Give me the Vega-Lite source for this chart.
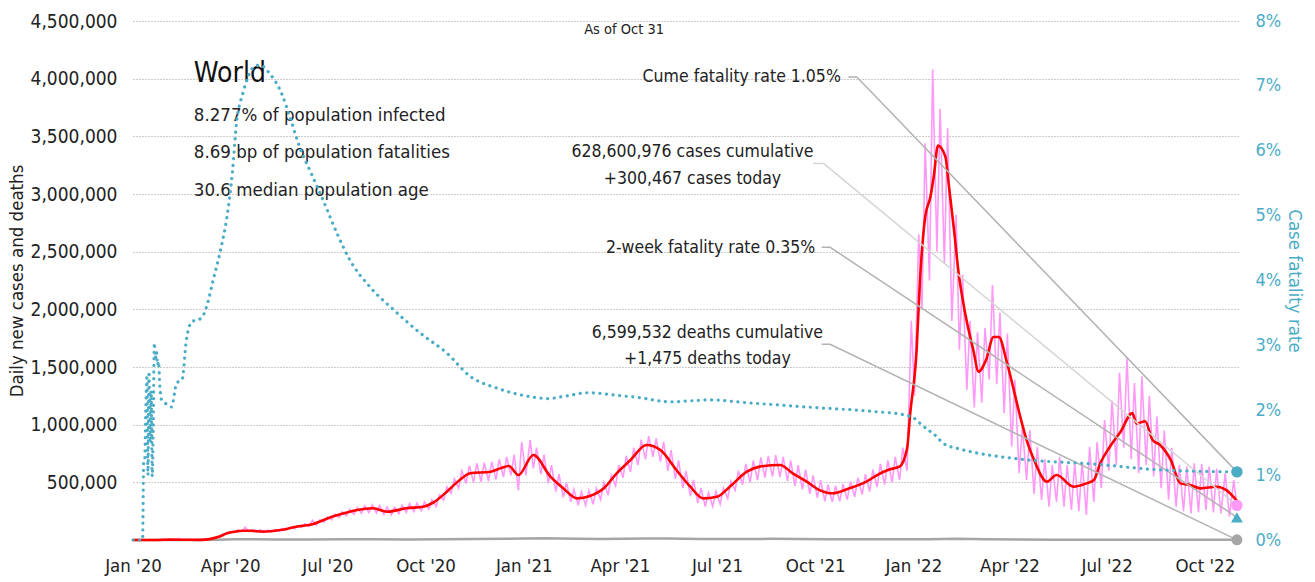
{
  "$schema": "https://vega.github.io/schema/vega-lite/v6.json",
  "width": 1105,
  "height": 519,
  "autosize": {"type": "none"},
  "padding": {"left": 133, "top": 21, "right": 77, "bottom": 42},
  "background": "white",
  "config": {
    "view": {"stroke": null},
    "font": "Liberation Sans Narrow, DejaVu Sans Condensed, Liberation Sans, sans-serif",
    "text": {"color": "#222", "fontWeight": "normal"}
  },
  "datasets": {
    "deaths": [
      {"d": "2020-01-01", "v": 0}, {"d": "2020-03-01", "v": 100}, {"d": "2020-03-20", "v": 1500},
      {"d": "2020-04-05", "v": 5500}, {"d": "2020-04-18", "v": 7000}, {"d": "2020-05-15", "v": 4700},
      {"d": "2020-06-15", "v": 4600}, {"d": "2020-07-15", "v": 5500}, {"d": "2020-08-15", "v": 5900},
      {"d": "2020-09-15", "v": 5400}, {"d": "2020-10-15", "v": 5800}, {"d": "2020-11-15", "v": 9000},
      {"d": "2020-12-15", "v": 11000}, {"d": "2021-01-20", "v": 14500}, {"d": "2021-02-20", "v": 10000},
      {"d": "2021-03-15", "v": 9000}, {"d": "2021-04-25", "v": 13000}, {"d": "2021-05-15", "v": 12000},
      {"d": "2021-06-15", "v": 9000}, {"d": "2021-07-15", "v": 8000}, {"d": "2021-08-20", "v": 10000},
      {"d": "2021-09-15", "v": 9000}, {"d": "2021-10-15", "v": 7000}, {"d": "2021-11-15", "v": 7000},
      {"d": "2021-12-15", "v": 7000}, {"d": "2022-01-15", "v": 7500}, {"d": "2022-02-10", "v": 11000},
      {"d": "2022-03-10", "v": 7000}, {"d": "2022-04-10", "v": 4000}, {"d": "2022-05-15", "v": 2000},
      {"d": "2022-06-15", "v": 1500}, {"d": "2022-07-15", "v": 2000}, {"d": "2022-08-15", "v": 2300},
      {"d": "2022-09-15", "v": 1700}, {"d": "2022-10-31", "v": 1475}
    ],
    "cases": [
      {"d": "2020-01-01", "v": 0}, {"d": "2020-01-22", "v": 600}, {"d": "2020-02-02", "v": 2800},
      {"d": "2020-02-05", "v": 3900}, {"d": "2020-02-09", "v": 3000}, {"d": "2020-02-13", "v": 15000},
      {"d": "2020-02-16", "v": 2000}, {"d": "2020-02-23", "v": 1000}, {"d": "2020-03-01", "v": 1000},
      {"d": "2020-03-04", "v": 2500}, {"d": "2020-03-08", "v": 2500}, {"d": "2020-03-11", "v": 6000},
      {"d": "2020-03-15", "v": 10000}, {"d": "2020-03-18", "v": 20000}, {"d": "2020-03-22", "v": 27000},
      {"d": "2020-03-25", "v": 45000}, {"d": "2020-03-29", "v": 55000}, {"d": "2020-04-01", "v": 72000},
      {"d": "2020-04-05", "v": 65000}, {"d": "2020-04-08", "v": 88000}, {"d": "2020-04-12", "v": 72000},
      {"d": "2020-04-15", "v": 110000}, {"d": "2020-04-19", "v": 72000}, {"d": "2020-04-22", "v": 90000},
      {"d": "2020-04-26", "v": 70000}, {"d": "2020-04-29", "v": 90000}, {"d": "2020-05-03", "v": 68000},
      {"d": "2020-05-06", "v": 85000}, {"d": "2020-05-10", "v": 72000}, {"d": "2020-05-13", "v": 92000},
      {"d": "2020-05-17", "v": 78000}, {"d": "2020-05-20", "v": 100000}, {"d": "2020-05-24", "v": 88000},
      {"d": "2020-05-27", "v": 112000}, {"d": "2020-05-31", "v": 98000}, {"d": "2020-06-03", "v": 125000},
      {"d": "2020-06-07", "v": 108000}, {"d": "2020-06-10", "v": 140000}, {"d": "2020-06-14", "v": 118000},
      {"d": "2020-06-17", "v": 170000}, {"d": "2020-06-21", "v": 130000}, {"d": "2020-06-24", "v": 175000},
      {"d": "2020-06-28", "v": 155000}, {"d": "2020-07-01", "v": 200000}, {"d": "2020-07-05", "v": 175000},
      {"d": "2020-07-08", "v": 225000}, {"d": "2020-07-12", "v": 195000}, {"d": "2020-07-15", "v": 245000},
      {"d": "2020-07-19", "v": 210000}, {"d": "2020-07-22", "v": 265000}, {"d": "2020-07-26", "v": 222000},
      {"d": "2020-07-29", "v": 282000}, {"d": "2020-08-02", "v": 232000}, {"d": "2020-08-05", "v": 295000},
      {"d": "2020-08-09", "v": 238000}, {"d": "2020-08-12", "v": 305000}, {"d": "2020-08-16", "v": 235000},
      {"d": "2020-08-19", "v": 300000}, {"d": "2020-08-23", "v": 222000}, {"d": "2020-08-26", "v": 285000},
      {"d": "2020-08-30", "v": 218000}, {"d": "2020-09-02", "v": 285000}, {"d": "2020-09-06", "v": 228000},
      {"d": "2020-09-09", "v": 300000}, {"d": "2020-09-13", "v": 240000}, {"d": "2020-09-16", "v": 315000},
      {"d": "2020-09-20", "v": 247000}, {"d": "2020-09-23", "v": 320000}, {"d": "2020-09-27", "v": 253000},
      {"d": "2020-09-30", "v": 330000}, {"d": "2020-10-04", "v": 268000}, {"d": "2020-10-07", "v": 350000},
      {"d": "2020-10-11", "v": 290000}, {"d": "2020-10-14", "v": 390000}, {"d": "2020-10-18", "v": 345000},
      {"d": "2020-10-21", "v": 460000}, {"d": "2020-10-25", "v": 405000}, {"d": "2020-10-28", "v": 530000},
      {"d": "2020-11-01", "v": 450000}, {"d": "2020-11-04", "v": 600000}, {"d": "2020-11-08", "v": 490000},
      {"d": "2020-11-11", "v": 645000}, {"d": "2020-11-15", "v": 500000}, {"d": "2020-11-18", "v": 665000},
      {"d": "2020-11-22", "v": 505000}, {"d": "2020-11-25", "v": 670000}, {"d": "2020-11-29", "v": 510000},
      {"d": "2020-12-02", "v": 680000}, {"d": "2020-12-06", "v": 525000}, {"d": "2020-12-09", "v": 700000},
      {"d": "2020-12-13", "v": 545000}, {"d": "2020-12-16", "v": 720000}, {"d": "2020-12-20", "v": 560000},
      {"d": "2020-12-23", "v": 740000}, {"d": "2020-12-27", "v": 430000}, {"d": "2020-12-30", "v": 850000},
      {"d": "2021-01-03", "v": 560000}, {"d": "2021-01-07", "v": 867000}, {"d": "2021-01-10", "v": 620000},
      {"d": "2021-01-13", "v": 800000}, {"d": "2021-01-17", "v": 570000}, {"d": "2021-01-20", "v": 740000},
      {"d": "2021-01-24", "v": 490000}, {"d": "2021-01-27", "v": 650000}, {"d": "2021-01-31", "v": 420000},
      {"d": "2021-02-03", "v": 570000}, {"d": "2021-02-07", "v": 370000}, {"d": "2021-02-10", "v": 500000},
      {"d": "2021-02-14", "v": 330000}, {"d": "2021-02-17", "v": 440000}, {"d": "2021-02-21", "v": 300000},
      {"d": "2021-02-24", "v": 420000}, {"d": "2021-02-28", "v": 300000}, {"d": "2021-03-03", "v": 430000},
      {"d": "2021-03-07", "v": 310000}, {"d": "2021-03-10", "v": 450000}, {"d": "2021-03-14", "v": 350000},
      {"d": "2021-03-17", "v": 500000}, {"d": "2021-03-21", "v": 390000}, {"d": "2021-03-24", "v": 560000},
      {"d": "2021-03-28", "v": 470000}, {"d": "2021-03-31", "v": 650000}, {"d": "2021-04-04", "v": 540000},
      {"d": "2021-04-07", "v": 730000}, {"d": "2021-04-11", "v": 590000}, {"d": "2021-04-14", "v": 800000},
      {"d": "2021-04-18", "v": 650000}, {"d": "2021-04-21", "v": 870000}, {"d": "2021-04-25", "v": 700000},
      {"d": "2021-04-28", "v": 900000}, {"d": "2021-05-02", "v": 720000}, {"d": "2021-05-05", "v": 880000},
      {"d": "2021-05-09", "v": 680000}, {"d": "2021-05-12", "v": 850000}, {"d": "2021-05-16", "v": 600000},
      {"d": "2021-05-19", "v": 780000}, {"d": "2021-05-23", "v": 530000}, {"d": "2021-05-26", "v": 690000},
      {"d": "2021-05-30", "v": 450000}, {"d": "2021-06-02", "v": 600000}, {"d": "2021-06-06", "v": 380000},
      {"d": "2021-06-09", "v": 520000}, {"d": "2021-06-13", "v": 320000}, {"d": "2021-06-16", "v": 450000},
      {"d": "2021-06-20", "v": 290000}, {"d": "2021-06-23", "v": 410000}, {"d": "2021-06-27", "v": 290000},
      {"d": "2021-06-30", "v": 420000}, {"d": "2021-07-04", "v": 310000}, {"d": "2021-07-07", "v": 450000},
      {"d": "2021-07-11", "v": 360000}, {"d": "2021-07-14", "v": 510000}, {"d": "2021-07-18", "v": 430000},
      {"d": "2021-07-21", "v": 600000}, {"d": "2021-07-25", "v": 480000}, {"d": "2021-07-28", "v": 660000},
      {"d": "2021-08-01", "v": 500000}, {"d": "2021-08-04", "v": 690000}, {"d": "2021-08-08", "v": 520000},
      {"d": "2021-08-11", "v": 715000}, {"d": "2021-08-15", "v": 540000}, {"d": "2021-08-18", "v": 730000},
      {"d": "2021-08-22", "v": 550000}, {"d": "2021-08-25", "v": 735000}, {"d": "2021-08-29", "v": 545000},
      {"d": "2021-09-01", "v": 720000}, {"d": "2021-09-05", "v": 510000}, {"d": "2021-09-08", "v": 690000},
      {"d": "2021-09-12", "v": 470000}, {"d": "2021-09-15", "v": 650000}, {"d": "2021-09-19", "v": 440000},
      {"d": "2021-09-22", "v": 610000}, {"d": "2021-09-26", "v": 400000}, {"d": "2021-09-29", "v": 560000},
      {"d": "2021-10-03", "v": 365000}, {"d": "2021-10-06", "v": 520000}, {"d": "2021-10-10", "v": 335000},
      {"d": "2021-10-13", "v": 480000}, {"d": "2021-10-17", "v": 330000}, {"d": "2021-10-20", "v": 470000},
      {"d": "2021-10-24", "v": 335000}, {"d": "2021-10-27", "v": 485000}, {"d": "2021-10-31", "v": 350000},
      {"d": "2021-11-03", "v": 505000}, {"d": "2021-11-07", "v": 375000}, {"d": "2021-11-10", "v": 540000},
      {"d": "2021-11-14", "v": 395000}, {"d": "2021-11-17", "v": 570000}, {"d": "2021-11-21", "v": 420000},
      {"d": "2021-11-24", "v": 610000}, {"d": "2021-11-28", "v": 460000}, {"d": "2021-12-01", "v": 660000},
      {"d": "2021-12-05", "v": 480000}, {"d": "2021-12-08", "v": 690000}, {"d": "2021-12-12", "v": 500000},
      {"d": "2021-12-15", "v": 720000}, {"d": "2021-12-19", "v": 520000}, {"d": "2021-12-22", "v": 800000},
      {"d": "2021-12-26", "v": 600000}, {"d": "2021-12-30", "v": 1900000}, {"d": "2022-01-02", "v": 1250000},
      {"d": "2022-01-06", "v": 2650000}, {"d": "2022-01-09", "v": 2000000}, {"d": "2022-01-12", "v": 3440000},
      {"d": "2022-01-16", "v": 2250000}, {"d": "2022-01-19", "v": 4080000}, {"d": "2022-01-23", "v": 2500000},
      {"d": "2022-01-26", "v": 3740000}, {"d": "2022-01-30", "v": 2400000}, {"d": "2022-02-02", "v": 3570000},
      {"d": "2022-02-06", "v": 1900000}, {"d": "2022-02-10", "v": 2820000}, {"d": "2022-02-13", "v": 1650000},
      {"d": "2022-02-16", "v": 2300000}, {"d": "2022-02-20", "v": 1300000}, {"d": "2022-02-23", "v": 1900000},
      {"d": "2022-02-27", "v": 1150000}, {"d": "2022-03-02", "v": 1800000}, {"d": "2022-03-06", "v": 1190000},
      {"d": "2022-03-09", "v": 1840000}, {"d": "2022-03-13", "v": 1390000}, {"d": "2022-03-16", "v": 2210000},
      {"d": "2022-03-20", "v": 1350000}, {"d": "2022-03-23", "v": 1970000}, {"d": "2022-03-27", "v": 1100000},
      {"d": "2022-03-30", "v": 1790000}, {"d": "2022-04-03", "v": 810000}, {"d": "2022-04-06", "v": 1390000},
      {"d": "2022-04-10", "v": 580000}, {"d": "2022-04-13", "v": 980000}, {"d": "2022-04-17", "v": 520000},
      {"d": "2022-04-20", "v": 954000}, {"d": "2022-04-24", "v": 400000}, {"d": "2022-04-27", "v": 809000},
      {"d": "2022-05-01", "v": 347000}, {"d": "2022-05-04", "v": 700000}, {"d": "2022-05-08", "v": 289000},
      {"d": "2022-05-11", "v": 650000}, {"d": "2022-05-15", "v": 330000}, {"d": "2022-05-18", "v": 722000},
      {"d": "2022-05-22", "v": 289000}, {"d": "2022-05-25", "v": 650000}, {"d": "2022-05-29", "v": 260000},
      {"d": "2022-06-01", "v": 665000}, {"d": "2022-06-05", "v": 250000}, {"d": "2022-06-08", "v": 680000},
      {"d": "2022-06-12", "v": 217000}, {"d": "2022-06-15", "v": 809000}, {"d": "2022-06-19", "v": 330000},
      {"d": "2022-06-22", "v": 850000}, {"d": "2022-06-26", "v": 450000}, {"d": "2022-06-29", "v": 1040000},
      {"d": "2022-07-03", "v": 600000}, {"d": "2022-07-06", "v": 1210000}, {"d": "2022-07-10", "v": 650000},
      {"d": "2022-07-13", "v": 1450000}, {"d": "2022-07-17", "v": 800000}, {"d": "2022-07-20", "v": 1580000},
      {"d": "2022-07-24", "v": 700000}, {"d": "2022-07-27", "v": 1360000}, {"d": "2022-07-31", "v": 578000},
      {"d": "2022-08-03", "v": 1420000}, {"d": "2022-08-07", "v": 650000}, {"d": "2022-08-10", "v": 1250000},
      {"d": "2022-08-14", "v": 550000}, {"d": "2022-08-17", "v": 1070000}, {"d": "2022-08-21", "v": 450000},
      {"d": "2022-08-24", "v": 950000}, {"d": "2022-08-28", "v": 350000}, {"d": "2022-08-31", "v": 800000},
      {"d": "2022-09-04", "v": 289000}, {"d": "2022-09-07", "v": 650000}, {"d": "2022-09-11", "v": 250000},
      {"d": "2022-09-14", "v": 636000}, {"d": "2022-09-18", "v": 231000}, {"d": "2022-09-21", "v": 665000},
      {"d": "2022-09-25", "v": 240000}, {"d": "2022-09-28", "v": 660000}, {"d": "2022-10-02", "v": 260000},
      {"d": "2022-10-05", "v": 636000}, {"d": "2022-10-09", "v": 240000}, {"d": "2022-10-12", "v": 620000},
      {"d": "2022-10-16", "v": 231000}, {"d": "2022-10-20", "v": 578000}, {"d": "2022-10-24", "v": 202000},
      {"d": "2022-10-28", "v": 520000}, {"d": "2022-10-31", "v": 300467}
    ],
    "avg": [
      {"d": "2020-01-01", "v": 0}, {"d": "2020-01-22", "v": 100}, {"d": "2020-02-05", "v": 3000},
      {"d": "2020-02-19", "v": 2000}, {"d": "2020-03-01", "v": 1500}, {"d": "2020-03-08", "v": 3000},
      {"d": "2020-03-15", "v": 12000}, {"d": "2020-03-22", "v": 30000}, {"d": "2020-03-29", "v": 58000},
      {"d": "2020-04-05", "v": 72000}, {"d": "2020-04-13", "v": 80000}, {"d": "2020-04-20", "v": 80000},
      {"d": "2020-05-02", "v": 73000}, {"d": "2020-05-18", "v": 87000}, {"d": "2020-06-02", "v": 115000},
      {"d": "2020-06-18", "v": 139000}, {"d": "2020-07-04", "v": 197000}, {"d": "2020-07-19", "v": 237000},
      {"d": "2020-07-29", "v": 260000}, {"d": "2020-08-13", "v": 275000}, {"d": "2020-08-26", "v": 245000},
      {"d": "2020-09-13", "v": 275000}, {"d": "2020-09-29", "v": 289000}, {"d": "2020-10-08", "v": 323000},
      {"d": "2020-10-21", "v": 419000}, {"d": "2020-11-02", "v": 520000}, {"d": "2020-11-12", "v": 578000},
      {"d": "2020-12-01", "v": 592000}, {"d": "2020-12-10", "v": 621000}, {"d": "2020-12-18", "v": 642000},
      {"d": "2020-12-27", "v": 563000}, {"d": "2021-01-10", "v": 737000}, {"d": "2021-01-26", "v": 549000},
      {"d": "2021-02-07", "v": 448000}, {"d": "2021-02-20", "v": 361000}, {"d": "2021-03-04", "v": 381000},
      {"d": "2021-03-17", "v": 448000}, {"d": "2021-03-29", "v": 578000}, {"d": "2021-04-11", "v": 694000},
      {"d": "2021-04-26", "v": 824000}, {"d": "2021-05-09", "v": 780000}, {"d": "2021-05-24", "v": 607000},
      {"d": "2021-06-06", "v": 462000}, {"d": "2021-06-18", "v": 361000}, {"d": "2021-07-01", "v": 375000},
      {"d": "2021-07-13", "v": 462000}, {"d": "2021-07-29", "v": 592000}, {"d": "2021-08-10", "v": 636000},
      {"d": "2021-08-29", "v": 650000}, {"d": "2021-09-10", "v": 578000}, {"d": "2021-09-23", "v": 506000},
      {"d": "2021-10-05", "v": 433000}, {"d": "2021-10-17", "v": 405000}, {"d": "2021-11-02", "v": 448000},
      {"d": "2021-11-18", "v": 506000}, {"d": "2021-11-28", "v": 563000}, {"d": "2021-12-10", "v": 613000},
      {"d": "2021-12-19", "v": 636000}, {"d": "2021-12-26", "v": 790000}, {"d": "2021-12-29", "v": 1100000},
      {"d": "2022-01-04", "v": 1650000}, {"d": "2022-01-07", "v": 2230000}, {"d": "2022-01-12", "v": 2800000},
      {"d": "2022-01-17", "v": 2980000}, {"d": "2022-01-20", "v": 3150000}, {"d": "2022-01-24", "v": 3420000},
      {"d": "2022-01-31", "v": 3320000}, {"d": "2022-02-03", "v": 3090000}, {"d": "2022-02-08", "v": 2690000},
      {"d": "2022-02-12", "v": 2340000}, {"d": "2022-02-19", "v": 1940000}, {"d": "2022-02-26", "v": 1650000},
      {"d": "2022-03-03", "v": 1460000}, {"d": "2022-03-10", "v": 1560000}, {"d": "2022-03-17", "v": 1760000},
      {"d": "2022-03-22", "v": 1760000}, {"d": "2022-03-29", "v": 1560000}, {"d": "2022-04-05", "v": 1300000},
      {"d": "2022-04-11", "v": 1070000}, {"d": "2022-04-18", "v": 838000}, {"d": "2022-04-24", "v": 694000},
      {"d": "2022-05-06", "v": 506000}, {"d": "2022-05-15", "v": 563000}, {"d": "2022-05-31", "v": 462000},
      {"d": "2022-06-12", "v": 491000}, {"d": "2022-06-19", "v": 520000}, {"d": "2022-06-25", "v": 665000},
      {"d": "2022-07-04", "v": 809000}, {"d": "2022-07-14", "v": 939000}, {"d": "2022-07-25", "v": 1100000},
      {"d": "2022-07-29", "v": 1010000}, {"d": "2022-08-06", "v": 1030000}, {"d": "2022-08-13", "v": 867000},
      {"d": "2022-08-20", "v": 824000}, {"d": "2022-08-30", "v": 694000}, {"d": "2022-09-08", "v": 491000},
      {"d": "2022-09-17", "v": 477000}, {"d": "2022-09-27", "v": 448000}, {"d": "2022-10-12", "v": 462000},
      {"d": "2022-10-21", "v": 433000}, {"d": "2022-10-31", "v": 340000}
    ],
    "cfr": [
      {"d": "2020-01-01", "v": 0}, {"d": "2020-01-10", "v": 0}, {"d": "2020-01-11", "v": 1.2},
      {"d": "2020-01-12", "v": 1.25}, {"d": "2020-01-13", "v": 2.0}, {"d": "2020-01-14", "v": 2.5},
      {"d": "2020-01-15", "v": 1.0}, {"d": "2020-01-16", "v": 2.6}, {"d": "2020-01-17", "v": 1.5},
      {"d": "2020-01-18", "v": 2.3}, {"d": "2020-01-19", "v": 0.98}, {"d": "2020-01-20", "v": 1.8},
      {"d": "2020-01-21", "v": 3.04}, {"d": "2020-01-22", "v": 2.8}, {"d": "2020-01-23", "v": 2.9},
      {"d": "2020-01-24", "v": 2.7}, {"d": "2020-01-25", "v": 2.75}, {"d": "2020-01-26", "v": 2.4},
      {"d": "2020-01-28", "v": 2.15}, {"d": "2020-02-01", "v": 2.1}, {"d": "2020-02-06", "v": 2.05},
      {"d": "2020-02-11", "v": 2.42}, {"d": "2020-02-16", "v": 2.47}, {"d": "2020-02-20", "v": 3.08},
      {"d": "2020-02-25", "v": 3.36}, {"d": "2020-03-05", "v": 3.42}, {"d": "2020-03-10", "v": 3.6},
      {"d": "2020-03-16", "v": 4.0}, {"d": "2020-03-23", "v": 4.47}, {"d": "2020-03-29", "v": 4.98},
      {"d": "2020-04-03", "v": 5.65}, {"d": "2020-04-07", "v": 6.43}, {"d": "2020-04-13", "v": 6.89},
      {"d": "2020-04-24", "v": 7.3}, {"d": "2020-04-29", "v": 7.32}, {"d": "2020-05-08", "v": 7.19},
      {"d": "2020-05-19", "v": 6.89}, {"d": "2020-05-27", "v": 6.52}, {"d": "2020-06-05", "v": 6.06},
      {"d": "2020-06-16", "v": 5.65}, {"d": "2020-06-27", "v": 5.24}, {"d": "2020-07-10", "v": 4.73},
      {"d": "2020-07-22", "v": 4.32}, {"d": "2020-08-10", "v": 3.9}, {"d": "2020-09-01", "v": 3.55},
      {"d": "2020-09-26", "v": 3.19}, {"d": "2020-10-21", "v": 2.88}, {"d": "2020-11-12", "v": 2.52},
      {"d": "2020-12-07", "v": 2.34}, {"d": "2021-01-07", "v": 2.21}, {"d": "2021-01-23", "v": 2.18},
      {"d": "2021-02-10", "v": 2.22}, {"d": "2021-03-02", "v": 2.27}, {"d": "2021-04-04", "v": 2.22},
      {"d": "2021-04-17", "v": 2.2}, {"d": "2021-05-18", "v": 2.13}, {"d": "2021-06-25", "v": 2.16},
      {"d": "2021-07-26", "v": 2.12}, {"d": "2021-09-23", "v": 2.05}, {"d": "2021-11-25", "v": 1.98},
      {"d": "2021-12-23", "v": 1.93}, {"d": "2022-01-04", "v": 1.85}, {"d": "2022-01-07", "v": 1.8},
      {"d": "2022-01-23", "v": 1.59}, {"d": "2022-01-29", "v": 1.49}, {"d": "2022-02-14", "v": 1.4},
      {"d": "2022-02-24", "v": 1.36}, {"d": "2022-04-09", "v": 1.25}, {"d": "2022-06-19", "v": 1.17},
      {"d": "2022-08-21", "v": 1.08}, {"d": "2022-10-31", "v": 1.05}
    ],
    "leadDark": [
      {"g": "cfr", "d": "2021-11-01", "v": 4015000}, {"g": "cfr", "d": "2021-11-09", "v": 4015000}, {"g": "cfr", "d": "2022-10-31", "v": 590625},
      {"g": "twoweek", "d": "2021-10-07", "v": 2537700}, {"g": "twoweek", "d": "2021-10-15", "v": 2537700}, {"g": "twoweek", "d": "2022-10-31", "v": 196875},
      {"g": "deaths", "d": "2021-10-07", "v": 1696700}, {"g": "deaths", "d": "2021-10-15", "v": 1696700}, {"g": "deaths", "d": "2022-10-31", "v": 1475}
    ],
    "leadLight": [
      {"g": "cases", "d": "2021-09-29", "v": 3264000}, {"g": "cases", "d": "2021-10-09", "v": 3264000}, {"g": "cases", "d": "2022-10-31", "v": 300467}
    ],
    "world": [{"t": "World", "d": "2020-02-27", "v": 3973500}],
    "facts": [
      {"t": "8.277% of population infected", "d": "2020-02-27", "v": 3632700},
      {"t": "8.69 bp of population fatalities", "d": "2020-02-27", "v": 3309300},
      {"t": "30.6 median population age", "d": "2020-02-27", "v": 2982500}
    ],
    "asof": [{"t": "As of Oct 31", "d": "2021-04-05", "v": 4421700}],
    "annR": [
      {"t": "Cume fatality rate 1.05%", "d": "2021-10-25", "v": 4014000},
      {"t": "2-week fatality rate 0.35%", "d": "2021-10-01", "v": 2531600}
    ],
    "annC": [
      {"t": "628,600,976 cases cumulative", "d": "2021-06-08", "v": 3366600},
      {"t": "+300,467 cases today", "d": "2021-06-08", "v": 3134200},
      {"t": "6,599,532 deaths cumulative", "d": "2021-06-22", "v": 1799000},
      {"t": "+1,475 deaths today", "d": "2021-06-22", "v": 1573600}
    ],
    "endCases": [{"d": "2022-10-31", "v": 300467}],
    "endDeaths": [{"d": "2022-10-31", "v": 1475}],
    "endCume": [{"d": "2022-10-31", "v": 1.05}],
    "endTwo": [{"d": "2022-10-31", "v": 0.35}]
  },
  "encoding": {
    "x": {
      "field": "d", "type": "temporal",
      "scale": {"type": "utc", "nice": false, "domain": [{"year": 2020, "month": 1, "date": 1, "utc": true}, {"year": 2022, "month": 11, "date": 1, "utc": true}]},
      "axis": {
        "orient": "bottom", "title": null, "labelExpr": "utcFormat(datum.value, \"%b '%y\")",
        "tickCount": {"interval": "month", "step": 3},
        "grid": false, "ticks": false, "domain": false, "labelFlush": false, "labelOverlap": false,
        "labelFontSize": 18.5, "labelColor": "#222", "labelPadding": 16
      }
    }
  },
  "layer": [
    {
      "encoding": {
        "y": {
          "field": "v", "type": "quantitative",
          "scale": {"domain": [0, 4500000], "nice": false},
          "axis": {
            "orient": "left", "values": [500000, 1000000, 1500000, 2000000, 2500000, 3000000, 3500000, 4000000, 4500000],
            "format": ",d", "grid": true, "gridDash": [1, 2], "gridColor": "#999", "gridWidth": 1,
            "ticks": false, "domain": false, "labelFlush": false, "labelFontSize": 19, "labelColor": "#222", "labelPadding": 16,
            "title": "Daily new cases and deaths", "titleFontSize": 18.5, "titleFontWeight": "normal", "titleColor": "#222", "titlePadding": 4
          }
        }
      },
      "layer": [
        {"data": {"name": "deaths"}, "mark": {"type": "line", "color": "#a6a6a6", "strokeWidth": 2.5}},
        {"data": {"name": "cases"}, "mark": {"type": "line", "color": "#ff99f8", "strokeWidth": 1.6}},
        {"data": {"name": "avg"}, "mark": {"type": "line", "color": "#ff0000", "strokeWidth": 2.6, "interpolate": "monotone"}},
        {"data": {"name": "leadDark"}, "mark": {"type": "line", "color": "#b3b3b3", "strokeWidth": 1.5}, "encoding": {"detail": {"field": "g"}}},
        {"data": {"name": "leadLight"}, "mark": {"type": "line", "color": "#d6d6d6", "strokeWidth": 1.5}, "encoding": {"detail": {"field": "g"}}},
        {"data": {"name": "world"}, "mark": {"type": "text", "align": "left", "baseline": "alphabetic", "fontSize": 28, "color": "#111"}, "encoding": {"text": {"field": "t"}}},
        {"data": {"name": "facts"}, "mark": {"type": "text", "align": "left", "baseline": "alphabetic", "fontSize": 18.5}, "encoding": {"text": {"field": "t"}}},
        {"data": {"name": "asof"}, "mark": {"type": "text", "align": "center", "baseline": "middle", "fontSize": 14.5}, "encoding": {"text": {"field": "t"}}},
        {"data": {"name": "annR"}, "mark": {"type": "text", "align": "right", "baseline": "middle", "fontSize": 17.5}, "encoding": {"text": {"field": "t"}}},
        {"data": {"name": "annC"}, "mark": {"type": "text", "align": "center", "baseline": "middle", "fontSize": 17.5}, "encoding": {"text": {"field": "t"}}},
        {"data": {"name": "endDeaths"}, "mark": {"type": "point", "shape": "circle", "filled": true, "opacity": 1, "size": 120, "color": "#a6a6a6"}},
        {"data": {"name": "endCases"}, "mark": {"type": "point", "shape": "circle", "filled": true, "opacity": 1, "size": 130, "color": "#ff99f8"}}
      ]
    },
    {
      "encoding": {
        "y": {
          "field": "v", "type": "quantitative",
          "scale": {"domain": [0, 8], "nice": false},
          "axis": {
            "orient": "right", "values": [0, 1, 2, 3, 4, 5, 6, 7, 8], "labelExpr": "datum.value + '%'",
            "grid": false, "ticks": false, "domain": false, "labelFlush": false,
            "labelFontSize": 18, "labelColor": "#4bacc6", "labelPadding": 17,
            "title": "Case fatality rate", "titleFontSize": 18.5, "titleFontWeight": "normal", "titleColor": "#4bacc6", "titlePadding": 4
          }
        }
      },
      "layer": [
        {"data": {"name": "cfr"}, "mark": {"type": "line", "color": "#4bacc6", "strokeWidth": 3.2, "strokeDash": [0.1, 6.5], "strokeCap": "round", "interpolate": "monotone"}},
        {"data": {"name": "endCume"}, "mark": {"type": "point", "shape": "circle", "filled": true, "opacity": 1, "size": 130, "color": "#4bacc6"}},
        {"data": {"name": "endTwo"}, "mark": {"type": "point", "shape": "triangle-up", "filled": true, "opacity": 1, "size": 140, "color": "#4bacc6"}}
      ]
    }
  ],
  "resolve": {"scale": {"y": "independent"}}
}
